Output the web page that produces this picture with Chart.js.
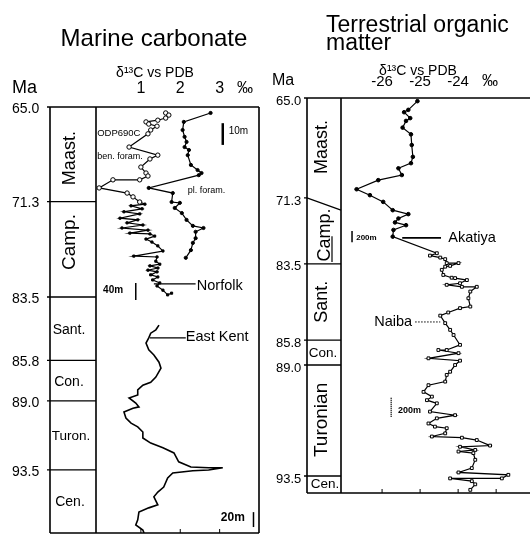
<!DOCTYPE html>
<html><head><meta charset="utf-8">
<script src="https://cdn.jsdelivr.net/npm/chart.js@4.4.1/dist/chart.umd.min.js"></script>
<style>
html,body{margin:0;padding:0;background:#fff;}
#wrap{position:relative;width:530px;height:538px;overflow:hidden;background:#fff;}
canvas{position:absolute;top:0;}
#c1{left:0;}
#c2{left:265px;}
</style></head><body>
<div id="wrap">
<canvas id="c1" width="265" height="538"></canvas>
<canvas id="c2" width="265" height="538"></canvas>
</div>
<script>
// ---------------- DATA ----------------
// Left panel: Marine carbonate (y = relative stratigraphic position, 0 = top of column, 100 = base)
const leftStageNames = ['Maast.', 'Camp.', 'Sant.', 'Con.', 'Turon.', 'Cen.'];
const leftAgeLabels = ['65.0', '71.3', '83.5', '85.8', '89.0', '93.5'];
const leftBoundaryPos = [0, 22.2, 44.6, 59.5, 69.0, 85.2];
const leftXTicks = [1, 2, 3];

// ODP690C benthic foraminifera (open circles)
const odpBenX = [1.63, 1.71, 1.63, 1.43, 1.13, 1.20, 1.41, 1.25, 1.18, 0.70, 1.43, 1.23, 1.00, 1.13, 1.18, 0.97, 0.29, -0.06, 0.65, 0.80, 0.97];
const odpBenY = [1.4, 1.9, 2.6, 3.1, 3.5, 4.0, 4.5, 5.4, 6.3, 9.4, 11.3, 12.2, 14.1, 15.5, 16.2, 17.1, 17.1, 19.0, 20.2, 21.1, 22.3];
// Norfolk
const norfolkX = [1.10, 0.75, 1.03, 0.57, 0.97, 0.47, 0.92, 0.65, 1.05, 0.52, 1.18, 0.72, 1.23, 1.35, 1.13, 1.28, 1.43, 1.56, 0.82, 1.41, 1.38, 1.48, 1.23, 1.43, 1.18, 1.41, 1.25, 1.43, 1.30, 1.48, 1.41, 1.56, 1.68, 1.78];
const norfolkY = [22.8, 23.2, 23.9, 24.6, 25.1, 26.1, 26.5, 27.2, 27.7, 28.4, 28.9, 29.6, 29.8, 30.3, 31.0, 31.7, 32.6, 33.8, 35.0, 35.2, 36.2, 36.9, 37.3, 37.8, 38.3, 38.7, 39.4, 39.9, 40.6, 41.3, 42.0, 43.0, 44.1, 43.7];
// ODP690C planktonic foraminifera
const plForamX = [2.77, 2.09, 2.06, 2.11, 2.16, 2.11, 2.22, 2.19, 2.27, 2.44, 2.54, 2.47, 1.20, 1.81, 1.78, 1.99, 1.86, 2.04, 2.16, 2.32, 2.59, 2.39, 2.39, 2.32, 2.27, 2.14];
const plForamY = [1.4, 3.5, 5.4, 7.0, 8.2, 9.4, 10.1, 11.3, 13.6, 14.8, 15.5, 16.0, 19.0, 20.2, 22.3, 22.5, 23.7, 24.9, 26.5, 27.9, 28.4, 29.3, 30.8, 31.9, 33.6, 35.4];
// East Kent
const eastKentX = [1.46, 1.38, 1.25, 1.20, 1.13, 1.20, 1.33, 1.46, 1.51, 1.38, 1.25, 1.05, 0.92, 0.92, 0.70, 0.87, 0.95, 0.80, 0.57, 0.62, 0.75, 0.92, 1.05, 1.05, 1.25, 1.56, 1.84, 1.96, 2.27, 2.72, 3.08, 2.72, 2.32, 1.81, 1.68, 1.58, 1.43, 1.33, 1.43, 1.20, 0.95, 0.92, 0.87, 1.05, 1.08];
const eastKentY = [51.2, 52.3, 53.1, 54.2, 55.4, 57.0, 58.2, 59.9, 61.3, 63.4, 64.6, 65.3, 66.4, 67.6, 68.3, 69.5, 70.4, 70.7, 71.6, 73.0, 74.2, 75.1, 76.3, 77.7, 78.9, 80.0, 81.2, 83.3, 84.5, 84.7, 84.7, 85.2, 85.4, 85.9, 87.1, 89.2, 90.4, 91.5, 93.4, 94.1, 95.1, 96.9, 98.1, 99.3, 100];

// Right panel: Terrestrial organic matter
const rightStageNames = ['Maast.', 'Camp.', 'Sant.', 'Con.', 'Turonian', 'Cen.'];
const rightAgeLabels = ['65.0', '71.3', '83.5', '85.8', '89.0', '93.5'];
const rightBoundaryPos = [0, 25.3, 42.0, 61.3, 67.6, 95.7];
const rightBoundaryPosInner = [0, 28.4, 42.0, 61.3, 67.6, 95.7];
const rightXTicks = [-26, -25, -24];

// Akatiya (filled circles)
const akatiyaX = [-25.07, -25.31, -25.42, -25.26, -25.37, -25.46, -25.24, -25.22, -25.19, -25.24, -25.57, -25.48, -26.10, -26.67, -26.32, -25.97, -25.72, -25.31, -25.57, -25.66, -25.37, -25.70, -25.72];
const akatiyaY = [0.8, 3.0, 3.6, 5.1, 5.8, 7.5, 9.2, 11.9, 14.9, 16.5, 17.8, 19.5, 20.8, 23.1, 24.6, 26.3, 28.4, 29.4, 30.5, 31.5, 32.2, 33.4, 35.1];
// Naiba (open squares)
const naibaX = [-24.56, -24.74, -24.47, -24.34, -24.30, -23.99, -24.21, -24.34, -24.43, -24.39, -24.17, -24.08, -23.77, -23.95, -24.30, -23.90, -23.51, -23.68, -23.73, -23.68, -23.95, -24.26, -24.47, -24.34, -24.21, -24.12, -23.95, -24.30, -24.52, -23.99, -24.78, -23.95, -24.08, -24.21, -24.30, -24.34, -24.78, -24.91, -24.69, -24.82, -24.56, -24.74, -24.08, -24.56, -24.78, -24.61, -24.30, -24.34, -24.69, -23.90, -23.51, -23.16, -23.95, -23.55, -23.99, -23.60, -23.55, -23.64, -23.99, -22.68, -22.85, -24.21, -23.64, -23.55, -23.68];
const naibaY = [39.3, 39.9, 40.4, 40.8, 41.8, 41.8, 42.5, 42.7, 43.5, 44.8, 45.5, 45.6, 46.1, 46.9, 47.3, 47.8, 47.8, 49.0, 50.7, 52.8, 53.2, 54.3, 55.1, 57.0, 58.7, 60.0, 62.5, 63.8, 63.8, 64.6, 65.9, 66.5, 67.6, 69.3, 70.1, 71.8, 72.7, 74.4, 75.6, 76.5, 77.3, 79.4, 80.3, 81.1, 82.4, 83.2, 83.6, 84.9, 85.7, 86.0, 86.6, 88.0, 88.3, 89.1, 89.5, 89.9, 91.6, 93.7, 94.8, 95.4, 96.3, 96.3, 97.0, 97.8, 99.2];

// ---------------- RENDERING ----------------
const FONT = '"Liberation Sans", Arial, Helvetica, sans-serif';
Chart.defaults.font.family = FONT;
Chart.defaults.color = '#000';

const pts = (xs, ys) => xs.map((x, i) => ({x: x, y: ys[i]}));

function makePanelPlugin(cfg) {
  return {
    id: 'panel_' + cfg.name,
    afterDraw(chart) {
      const ctx = chart.ctx, a = chart.chartArea;
      const xs = chart.scales.x, ys = chart.scales.y;
      const X = v => xs.getPixelForValue(v), Y = v => ys.getPixelForValue(v);
      const colL = a.left - cfg.colWidth;
      const rightEnd = cfg.openRight ? chart.width : a.right;
      ctx.save();
      ctx.strokeStyle = '#000'; ctx.fillStyle = '#000';
      ctx.lineCap = 'butt';
      // frame
      ctx.lineWidth = 1.6;
      ctx.beginPath();
      ctx.moveTo(colL - 3, a.top); ctx.lineTo(rightEnd, a.top);
      ctx.moveTo(colL, a.bottom); ctx.lineTo(rightEnd, a.bottom);
      ctx.moveTo(colL, a.top); ctx.lineTo(colL, a.bottom);
      ctx.moveTo(a.left, a.top); ctx.lineTo(a.left, a.bottom);
      if (!cfg.openRight) { ctx.moveTo(a.right, a.top); ctx.lineTo(a.right, a.bottom); }
      ctx.stroke();
      // stage boundaries
      ctx.lineWidth = 1.3;
      ctx.beginPath();
      cfg.boundaryPos.forEach((p, i) => {
        if (i === 0) return;
        const y1 = Y(p), y2 = Y(cfg.boundaryPosInner[i]);
        ctx.moveTo(colL - 3, y1); ctx.lineTo(colL, y1); ctx.lineTo(a.left, y2);
      });
      ctx.stroke();
      // bottom tick marks
      ctx.lineWidth = 1;
      ctx.beginPath();
      cfg.bottomTicks.forEach(v => { const x = X(v); ctx.moveTo(x, a.bottom); ctx.lineTo(x, a.bottom - 4); });
      ctx.stroke();
      // stage names
      ctx.textAlign = 'center'; ctx.textBaseline = 'middle';
      const cx = (colL + a.left) / 2;
      cfg.stageNames.forEach((s, i) => {
        const st = cfg.stageStyle[i];
        ctx.save();
        ctx.translate(cx + (st.dx || 0), Y(st.pos));
        if (st.rot) ctx.rotate(-Math.PI / 2);
        ctx.font = st.size + 'px ' + FONT;
        ctx.fillText(s, 0, 0);
        ctx.restore();
      });
      // extra lines (leaders, scale bars) in data units
      cfg.lines.forEach(l => {
        ctx.save();
        ctx.lineWidth = l.w;
        if (l.dash) ctx.setLineDash(l.dash);
        ctx.beginPath();
        ctx.moveTo(X(l.x1), Y(l.y1)); ctx.lineTo(X(l.x2), Y(l.y2));
        ctx.stroke();
        ctx.restore();
      });
      if (cfg.colLines) cfg.colLines.forEach(l => {
        ctx.save(); ctx.lineWidth = l.w; ctx.beginPath();
        ctx.moveTo(colL + l.dx, Y(l.y1)); ctx.lineTo(colL + l.dx, Y(l.y2)); ctx.stroke(); ctx.restore();
      });
      // notes in data units
      ctx.textBaseline = 'middle';
      cfg.notes.forEach(n => {
        ctx.font = (n.bold ? 'bold ' : '') + n.size + 'px ' + FONT;
        ctx.textAlign = n.align || 'left';
        ctx.fillText(n.t, X(n.x), Y(n.y));
      });
      // titles / headers (canvas layout)
      ctx.textBaseline = 'alphabetic';
      cfg.texts.forEach(n => {
        ctx.font = n.size + 'px ' + FONT;
        ctx.textAlign = n.align || 'left';
        ctx.fillText(n.t, n.x, n.y);
      });
      ctx.restore();
    }
  };
}

function baseOptions(o) {
  return {
    responsive: false,
    animation: false,
    events: [],
    layout: {autoPadding: false, padding: o.padding},
    plugins: {legend: {display: false}, tooltip: {enabled: false}, title: {display: false}},
    scales: {
      x: {
        type: 'linear', position: 'top', min: o.xmin, max: o.xmax,
        grid: {display: false, drawTicks: false}, border: {display: false},
        ticks: {padding: o.xTickPad, font: {size: o.xTickSize}, color: '#000', autoSkip: false,
                callback: v => String(v)},
        afterBuildTicks: s => { s.ticks = o.xTicks.map(v => ({value: v})); },
        afterFit: s => { s.height = o.top; s.paddingLeft = 0; s.paddingRight = 0; }
      },
      y: {
        type: 'linear', reverse: true, min: 0, max: 100,
        grid: {display: false, drawTicks: false}, border: {display: false},
        ticks: {padding: 0, crossAlign: 'far', labelOffset: o.yLabelOffset, font: {size: o.yTickSize},
                color: '#000', autoSkip: false, callback: (v, i) => o.yLabels[i]},
        afterBuildTicks: s => { s.ticks = o.yPos.map(v => ({value: v})); },
        afterFit: s => { s.width = o.yWidth; s.paddingTop = 0; s.paddingBottom = 0; }
      }
    }
  };
}

// ----- left chart -----
const nBen = odpBenX.length;
new Chart(document.getElementById('c1'), {
  type: 'scatter',
  data: {datasets: [
    {label: 'East Kent', data: pts(eastKentX, eastKentY), showLine: true, borderColor: '#000', borderWidth: 1.6, pointRadius: 0},
    {label: 'ODP690C pl. foram.', data: pts(plForamX, plForamY), showLine: true, borderColor: '#000', borderWidth: 1.2,
     pointRadius: 1.6, pointStyle: 'circle', pointBackgroundColor: '#000', pointBorderColor: '#000', pointBorderWidth: 1},
    {label: 'ODP690C ben. foram. / Norfolk', data: pts(odpBenX, odpBenY).concat(pts(norfolkX, norfolkY)), showLine: true,
     borderColor: '#000', borderWidth: 1.2,
     pointRadius: c => c.dataIndex < nBen ? 2.2 : 1.5,
     pointStyle: c => c.dataIndex < nBen ? 'circle' : 'rect',
     pointBackgroundColor: c => c.dataIndex < nBen ? '#fff' : '#000',
     pointBorderColor: '#000', pointBorderWidth: 1}
  ]},
  options: baseOptions({padding: {left: 12, right: 6, top: 0, bottom: 5}, xmin: -0.14, xmax: 4.0,
    xTicks: leftXTicks, xTickPad: 9, xTickSize: 16, top: 107,
    yPos: leftBoundaryPos, yLabels: leftAgeLabels, yWidth: 84, yTickSize: 14, yLabelOffset: 2}),
  plugins: [makePanelPlugin({
    name: 'left', colWidth: 46, openRight: false,
    boundaryPos: leftBoundaryPos, boundaryPosInner: leftBoundaryPos,
    bottomTicks: leftXTicks, stageNames: leftStageNames,
    stageStyle: [{pos: 12.0, rot: true, size: 18, dx: -3}, {pos: 31.7, rot: true, size: 19, dx: -3}, {pos: 52.3, size: 14, dx: -4},
                 {pos: 64.6, size: 14, dx: -4}, {pos: 77.2, size: 13.5, dx: -2}, {pos: 92.7, size: 14, dx: -3}],
    lines: [
      {x1: 3.08, y1: 3.8, x2: 3.08, y2: 8.9, w: 2.5},
      {x1: 0.87, y1: 41.3, x2: 0.87, y2: 45.3, w: 1.5},
      {x1: 1.33, y1: 41.5, x2: 2.39, y2: 41.5, w: 1.2},
      {x1: 1.23, y1: 54.2, x2: 2.14, y2: 54.2, w: 1.2},
      {x1: 3.86, y1: 95.1, x2: 3.86, y2: 98.6, w: 1.5}
    ],
    notes: [
      {t: 'ODP690C', x: -0.11, y: 6.3, size: 9.5},
      {t: 'ben. foram.', x: -0.11, y: 11.7, size: 9},
      {t: 'pl. foram.', x: 2.19, y: 19.5, size: 9},
      {t: '10m', x: 3.23, y: 5.6, size: 10},
      {t: '40m', x: 0.04, y: 43.0, size: 10, bold: true},
      {t: 'Norfolk', x: 2.42, y: 42.0, size: 14.5},
      {t: 'East Kent', x: 2.14, y: 54.0, size: 14.5},
      {t: '20m', x: 3.03, y: 96.5, size: 12, bold: true}
    ],
    texts: [
      {t: 'Marine carbonate', x: 154, y: 46, size: 24, align: 'center'},
      {t: 'δ¹³C vs PDB', x: 155, y: 77, size: 14, align: 'center'},
      {t: 'Ma', x: 12, y: 93, size: 18},
      {t: '‰', x: 245, y: 93, size: 16, align: 'center'}
    ]
  })]
});

// ----- right chart -----
const nAk = akatiyaX.length;
new Chart(document.getElementById('c2'), {
  type: 'scatter',
  data: {datasets: [
    {label: 'Akatiya / Naiba', data: pts(akatiyaX, akatiyaY).concat(pts(naibaX, naibaY)), showLine: true,
     borderColor: '#000', borderWidth: 1.2,
     pointRadius: c => c.dataIndex < nAk ? 1.8 : 2.0,
     pointStyle: c => c.dataIndex < nAk ? 'circle' : 'rect',
     pointBackgroundColor: c => c.dataIndex < nAk ? '#000' : '#fff',
     pointBorderColor: '#000', pointBorderWidth: 1}
  ]},
  options: baseOptions({padding: {left: 11, right: 0, top: 0, bottom: 45}, xmin: -27.08, xmax: -22.11,
    xTicks: rightXTicks, xTickPad: 7, xTickSize: 15, top: 98,
    yPos: rightBoundaryPos, yLabels: rightAgeLabels, yWidth: 65, yTickSize: 13, yLabelOffset: 3}),
  plugins: [makePanelPlugin({
    name: 'right', colWidth: 34, openRight: true,
    boundaryPos: rightBoundaryPos, boundaryPosInner: rightBoundaryPosInner,
    bottomTicks: [-26, -25, -24, -23], stageNames: rightStageNames,
    stageStyle: [{pos: 12.4, rot: true, size: 18, dx: -2}, {pos: 34.7, rot: true, size: 18, dx: 1}, {pos: 51.6, rot: true, size: 18, dx: -2},
                 {pos: 64.6, size: 13.5, dx: -1}, {pos: 81.5, rot: true, size: 19, dx: -2}, {pos: 97.7, size: 13.5, dx: 1}],
    colLines: [{dx: 25, y1: 35.0, y2: 41.5, w: 1.2}],
    lines: [
      {x1: -25.47, y1: 35.4, x2: -24.45, y2: 35.4, w: 1.8},
      {x1: -25.13, y1: 56.7, x2: -24.47, y2: 56.7, w: 1, dash: [1.5, 1.5]},
      {x1: -26.79, y1: 33.7, x2: -26.79, y2: 36.5, w: 1.5},
      {x1: -25.76, y1: 75.9, x2: -25.76, y2: 80.8, w: 1.5, dash: [1, 1]}
    ],
    notes: [
      {t: 'Akatiya', x: -24.26, y: 35.4, size: 14.5},
      {t: 'Naiba', x: -25.21, y: 56.7, size: 14.5, align: 'right'},
      {t: '200m', x: -26.68, y: 35.4, size: 8, bold: true},
      {t: '200m', x: -25.58, y: 79.0, size: 9, bold: true}
    ],
    texts: [
      {t: 'Terrestrial organic', x: 61, y: 32, size: 23},
      {t: 'matter', x: 61, y: 50, size: 23},
      {t: 'δ¹³C vs PDB', x: 153, y: 75, size: 14, align: 'center'},
      {t: 'Ma', x: 7, y: 85, size: 16},
      {t: '‰', x: 225, y: 86, size: 16, align: 'center'}
    ]
  })]
});
</script>
</body></html>
